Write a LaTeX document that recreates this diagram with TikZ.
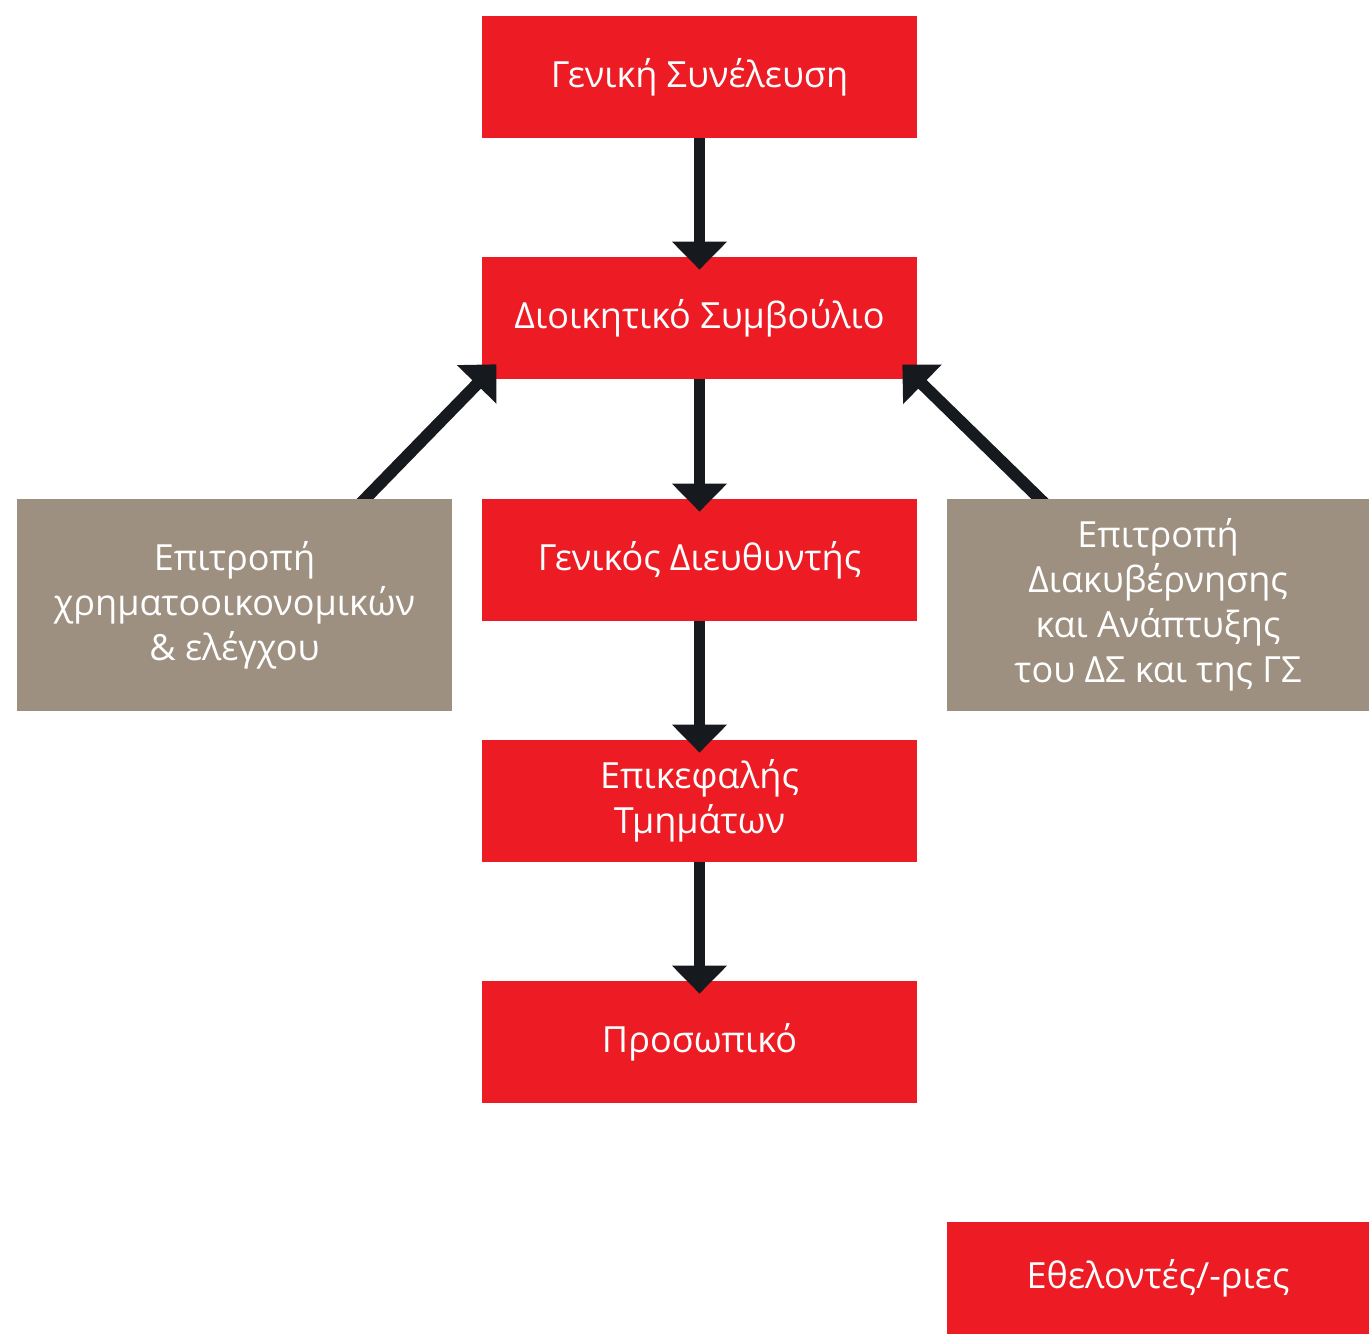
\documentclass[tikz,border=0pt]{standalone}
\usepackage{fontspec}
\setmainfont{Open Sans}
\usepackage{tikz}
\usepackage{xcolor}
\usetikzlibrary{arrows.meta,calc}
\definecolor{orgred}{HTML}{ED1C24}
\definecolor{orggrey}{HTML}{9E9080}
\definecolor{orgblack}{HTML}{16191D}
\pgfdeclarelayer{front}
\pgfsetlayers{main,front}

\begin{document}
\begin{tikzpicture}[
  redbox/.style={fill=orgred, text=white, minimum width=8.7cm, minimum height=2.44cm, inner sep=0pt, align=center, font=\fontsize{20.5}{25.5}\selectfont},
  greybox/.style={fill=orggrey, text=white, minimum width=8.7cm, minimum height=4.24cm, inner sep=0pt, align=center, font=\fontsize{20.5}{25.5}\selectfont},
  bigarrow/.style={-{Triangle[length=16pt, width=30.5pt]}, line width=6.8pt, draw=orgblack, fill=orgblack}]

\useasboundingbox (0,0) rectangle (27.38,-26.68);

\node[redbox] (gs) at (13.99,-1.54) {Γενική Συνέλευση};
\node[redbox] (ds) at (13.99,-6.36) {Διοικητικό Συμβούλιο};
\node[redbox] (gd) at (13.99,-11.2) {Γενικός Διευθυντής};
\node[redbox] (et) at (13.99,-16.02) {Επικεφαλής\\Τμημάτων};
\node[redbox] (pr) at (13.99,-20.84) {Προσωπικό};

\begin{pgfonlayer}{front}
\node[greybox] (fin) at (4.69,-12.1) {Επιτροπή\\χρηματοοικονομικών\\\& ελέγχου};
\node[greybox, minimum width=8.44cm] (gov) at (23.16,-12.1) {Επιτροπή\\Διακυβέρνησης\\και Ανάπτυξης\\του ΔΣ και της ΓΣ};
\end{pgfonlayer}

\node[redbox, minimum width=8.44cm, minimum height=2.24cm] (vol) at (23.16,-25.56) {Εθελοντές/-ριες};

\draw[bigarrow, shorten >=-0.26cm] (gs) -- (ds);
\draw[bigarrow, shorten >=-0.26cm] (ds) -- (gd);
\draw[bigarrow, shorten >=-0.26cm] (gd) -- (et);
\draw[bigarrow, shorten >=-0.26cm] (et) -- (pr);

\coordinate (finTop) at ($(fin.north east)+(-1.74,0)$);
\coordinate (govTop) at ($(gov.north west)+(1.86,0)$);
\draw[bigarrow, shorten >=-0.42cm, shorten <=-0.4cm] (finTop) -- (ds.south west);
\draw[bigarrow, shorten >=-0.42cm, shorten <=-0.4cm] (govTop) -- (ds.south east);
\end{tikzpicture}
\end{document}
